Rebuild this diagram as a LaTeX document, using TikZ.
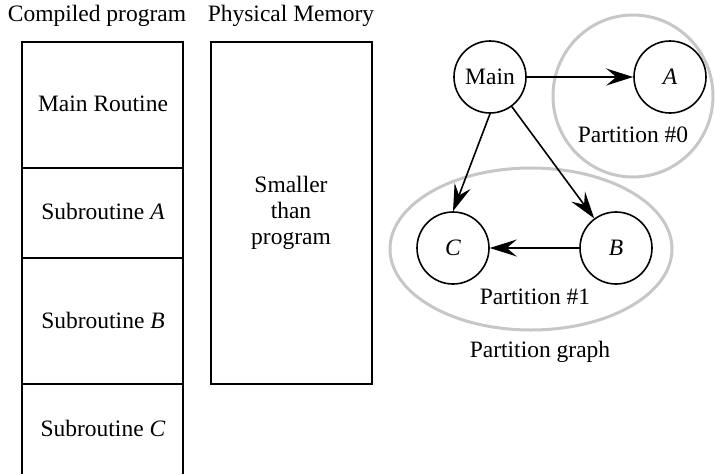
\documentclass[tikz,border=0pt]{standalone}
\usepackage{fontspec}
\setmainfont{Liberation Serif}
\usetikzlibrary{arrows.meta}
\begin{document}
\begin{tikzpicture}[x=1pt,y=-1pt,
  txt/.style={font=\fontsize{23.5}{26}\selectfont, inner sep=0pt, align=center},
  blk/.style={draw=black, line width=1.8pt},
  vtx/.style={circle, draw=black, line width=1.6pt, minimum size=72pt, inner sep=0pt, font=\fontsize{23.5}{26}\selectfont},
  part/.style={draw=black!22, line width=3pt},
  arr/.style={line width=1.6pt, -{Stealth[length=27pt,width=17pt,inset=10pt]}}]
\useasboundingbox (0,0) rectangle (715,474);
% left column
\node[txt] (lbl1) at (97,16) {Compiled program};
\node[txt] (lbl2) at (291,16) {Physical Memory};
\draw[blk] (22,42) rectangle (183,168);
\draw[blk] (22,168) rectangle (183,258);
\draw[blk] (22,258) rectangle (183,384);
\draw[blk] (22,384) -- (22,474) (183,384) -- (183,474);
\node[txt] (t1) at (103,104) {Main Routine};
\node[txt] (t2) at (103,211) {Subroutine \textit{A}};
\node[txt] (t3) at (103,320) {Subroutine \textit{B}};
\node[txt] (t4) at (103,428) {Subroutine \textit{C}};
% physical memory
\draw[blk] (211,42) rectangle (372,384);
\node[txt] (pm) at (291,213) {Smaller\\than\\program};
% partition graph
\draw[part] (633,96) ellipse [x radius=80, y radius=81];
\draw[part] (531,249) ellipse [x radius=141, y radius=81];
\node[vtx] (main) at (490,77) {Main};
\node[vtx] (A) at (670,77) {\textit{A}};
\node[vtx] (C) at (453,248) {\textit{C}};
\node[vtx] (B) at (616,248) {\textit{B}};
\node[txt] (p0) at (633,135) {Partition \#0};
\node[txt] (p1) at (535,297) {Partition \#1};
\node[txt] (pg) at (540,352) {Partition graph};
\draw[arr] (main) -- (A);
\draw[arr] (main.south) -- (C.north);
\draw[arr] (main) -- (B);
\draw[arr] (B) -- (C);
\end{tikzpicture}
\end{document}
